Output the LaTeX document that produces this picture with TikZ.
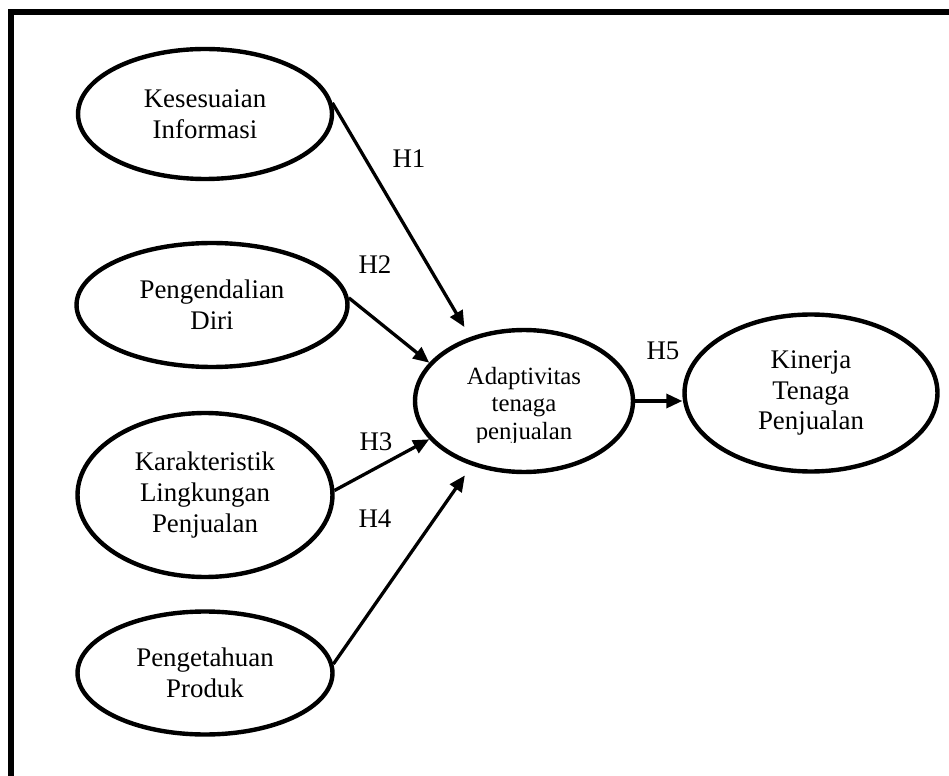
\documentclass[tikz,border=0pt]{standalone}
\usepackage{fontspec}
\setmainfont{Liberation Serif}
\usetikzlibrary{arrows.meta,shapes.geometric}
\begin{document}
\begin{tikzpicture}[x=0.02cm,y=-0.02cm,
  construct/.style={ellipse, draw, line width=0.088cm, inner sep=0pt, align=center,
    font=\fontsize{15.3}{17.6}\selectfont},
  path arrow/.style={line width=0.066cm, -{Triangle[length=0.32cm,width=0.28cm]}},
  hyp/.style={font=\fontsize{15.3}{17.6}\selectfont, inner sep=0pt}]
\useasboundingbox (0,0) rectangle (949,776);

% open frame: left and top rule
\draw[line width=0.12cm] (11,776) -- (11,12) -- (949,12);

% exogenous constructs
\node[construct, minimum width=5.08cm, minimum height=2.6cm] (kes) at (205,114) {Kesesuaian\\Informasi};
\node[construct, minimum width=5.42cm, minimum height=2.48cm] (pen) at (212,305) {Pengendalian\\Diri};
\node[construct, minimum width=5.1cm, minimum height=3.28cm] (kar) at (205,495) {Karakteristik\\Lingkungan\\Penjualan};
\node[construct, minimum width=5.1cm, minimum height=2.46cm] (pgt) at (205,673) {Pengetahuan\\Produk};

% mediating construct (its text box is cut off at the bottom)
\node[construct, minimum width=4.36cm, minimum height=2.84cm] (adapt) at (524,401) {};
\begin{scope}
  \clip (400,300) rectangle (660,442);
  \node[align=center, inner sep=0pt, font=\fontsize{14.1}{15.9}\selectfont] (adapttext) at (524,406)
    {Adaptivitas\\tenaga\\penjualan};
\end{scope}

% outcome construct
\node[construct, minimum width=5.06cm, minimum height=3.14cm] (kin) at (811,393) {Kinerja\\Tenaga\\Penjualan};

% hypothesised paths
\draw[path arrow, shorten >=0.23cm] (kes.5) -- (adapt.130);
\draw[path arrow] (pen.3) -- (adapt.158);
\draw[path arrow] (kar.2) -- (adapt.202);
\draw[path arrow, shorten >=0.24cm] (pgt.4) -- (adapt.231);
\draw[path arrow] (adapt.east) -- (adapt.east -| kin.west);

% path labels
\node[hyp] (h1) at (409,159) {H1};
\node[hyp] (h2) at (375,265) {H2};
\node[hyp] (h3) at (376,442) {H3};
\node[hyp] (h4) at (375,519) {H4};
\node[hyp] (h5) at (663,351) {H5};
\end{tikzpicture}
\end{document}
